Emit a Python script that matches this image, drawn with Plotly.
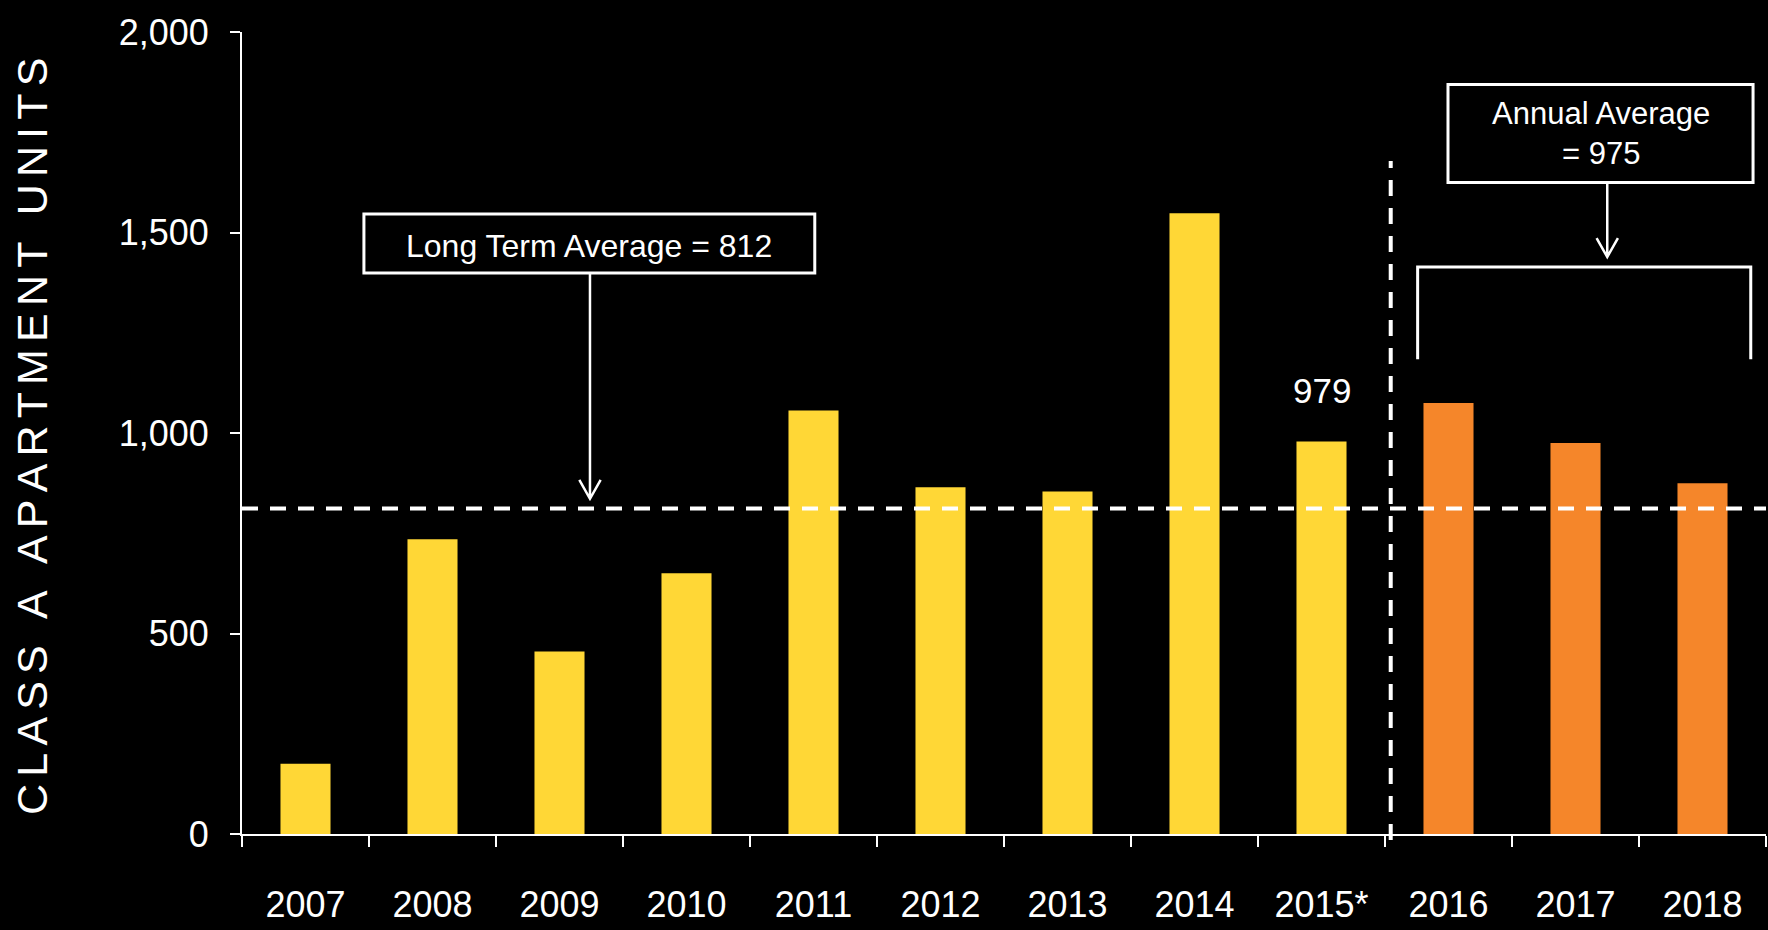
import plotly.graph_objects as go

# Class A apartment deliveries by year (2016-2018 are forecast)
years = ["2007", "2008", "2009", "2010", "2011", "2012", "2013", "2014",
         "2015*", "2016", "2017", "2018"]
units = [175, 735, 455, 650, 1056, 865, 854, 1548, 979, 1075, 975, 875]
is_forecast = [False] * 9 + [True] * 3
y_ticks = [0, 500, 1000, 1500, 2000]

long_term_avg = 812
forecast_avg = 975
labelled_year = "2015*"

YELLOW = "#FFD736"
ORANGE = "#F5862A"
WHITE = "white"
FONT = "Arial, 'Liberation Sans', sans-serif"

bar_colors = [ORANGE if f else YELLOW for f in is_forecast]

fig = go.Figure(
    go.Bar(
        x=years,
        y=units,
        width=0.394,
        marker=dict(color=bar_colors, line=dict(width=0)),
        hoverinfo="x+y",
    )
)

n = len(years)
# separator between actuals and forecast (category coordinates)
sep_idx = 8.545
sep_paper = (sep_idx + 0.5) / n

line_w = dict(color=WHITE, width=3)
shapes = [
    # long term average reference line
    dict(type="line", xref="paper", yref="y", x0=0, x1=1,
         y0=long_term_avg, y1=long_term_avg,
         line=dict(color=WHITE, width=4, dash="16px,12px"), layer="above"),
    # actual / forecast separator
    dict(type="line", xref="paper", yref="paper", x0=sep_paper, x1=sep_paper,
         y0=-0.0075, y1=0.839,
         line=dict(color=WHITE, width=4, dash="16px,12px"), layer="above"),
    # long term average callout box and arrow
    dict(type="rect", xref="x", yref="y", x0=0.46, x1=4.01, y0=1399, y1=1546,
         line=line_w, fillcolor="black"),
    dict(type="path", xref="x", yref="y",
         path=f"M 2.24,1399 L 2.24,{long_term_avg + 24} "
              f"M 2.156,{long_term_avg + 71} L 2.24,{long_term_avg + 24} "
              f"L 2.324,{long_term_avg + 71}",
         line=dict(color=WHITE, width=2.5)),
    # forecast average callout box, arrow and bracket
    dict(type="rect", xref="x", yref="y", x0=8.996, x1=11.398, y0=1625, y1=1869,
         line=line_w, fillcolor="black"),
    dict(type="path", xref="x", yref="y",
         path="M 10.25,1625 L 10.25,1439 M 10.166,1486 L 10.25,1439 L 10.334,1486",
         line=dict(color=WHITE, width=2.5)),
    dict(type="path", xref="x", yref="y",
         path="M 8.757,1184 L 8.757,1414 L 11.38,1414 L 11.38,1184",
         line=line_w),
]

label_value = units[years.index(labelled_year)]
annotations = [
    dict(xref="x", yref="y", x=2.236, y=1466,
         text=f"Long Term Average = {long_term_avg}", showarrow=False,
         font=dict(size=32, color=WHITE, family=FONT),
         xanchor="center", yanchor="middle"),
    dict(xref="x", yref="y", x=10.197, y=1747,
         text=f"Annual Average<br>= {forecast_avg}", showarrow=False,
         font=dict(size=31, color=WHITE, family=FONT),
         xanchor="center", yanchor="middle"),
    dict(xref="x", yref="y", x=labelled_year, y=label_value,
         text=f"{label_value:,}", showarrow=False, yshift=29,
         font=dict(size=35, color=WHITE, family=FONT),
         xanchor="center", yanchor="bottom"),
    dict(xref="paper", yref="paper", x=-0.1375, y=0.4957,
         text="\u2006".join("CLASS A APARTMENT UNITS"), showarrow=False,
         textangle=-90, font=dict(size=43, color=WHITE, family=FONT),
         xanchor="center", yanchor="middle"),
]

fig.update_layout(
    width=1768,
    height=930,
    margin=dict(l=242, r=2, t=32, b=96),
    paper_bgcolor="black",
    plot_bgcolor="black",
    showlegend=False,
    font=dict(family=FONT, color=WHITE),
    shapes=shapes,
    annotations=annotations,
)

fig.update_xaxes(
    type="category",
    range=[-0.5, n - 0.5],
    showline=True, linecolor=WHITE, linewidth=2,
    ticks="outside", tickson="boundaries", ticklen=11, tickwidth=2,
    tickcolor=WHITE,
    tickfont=dict(size=36, color=WHITE, family=FONT),
    ticklabelstandoff=38,
    showgrid=False, zeroline=False,
)
fig.update_yaxes(
    range=[0, 2000],
    tickvals=y_ticks,
    tickformat=",",
    showline=True, linecolor=WHITE, linewidth=2,
    ticks="outside", ticklen=10, tickwidth=2, tickcolor=WHITE,
    tickfont=dict(size=36, color=WHITE, family=FONT),
    ticklabelstandoff=14,
    showgrid=False, zeroline=False,
)

fig.write_html("out.html")
